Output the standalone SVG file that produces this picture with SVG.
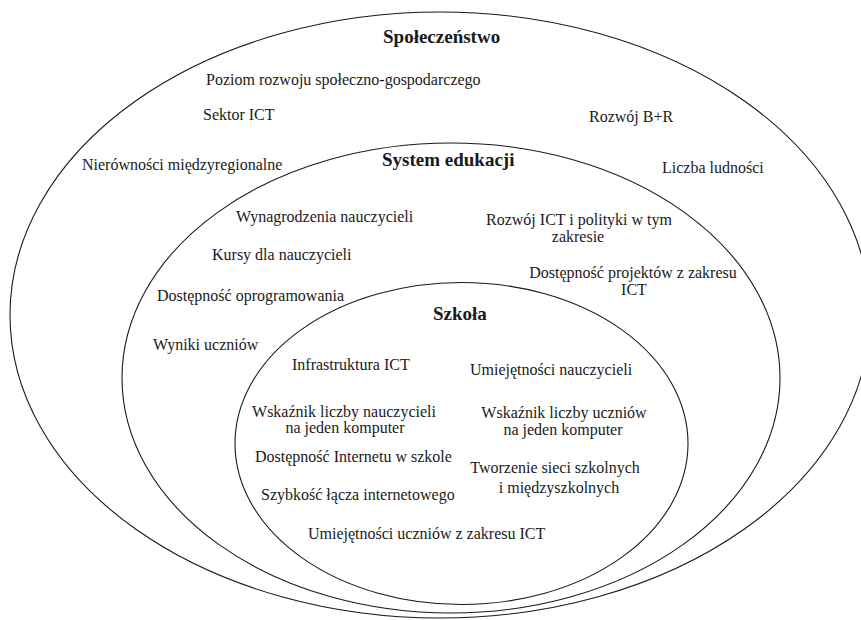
<svg xmlns="http://www.w3.org/2000/svg" width="861" height="620" viewBox="0 0 861 620">
<style>
.ring{fill:none;stroke:#1a1a1a;stroke-width:1.1}
text{font-family:"Liberation Serif","Times New Roman",serif;fill:#1a1a1a}
.t{font-size:16px}
.h{font-size:19px;font-weight:bold}
.c{text-anchor:middle}
</style>
<rect width="861" height="620" fill="#ffffff"/>
<g id="spoleczenstwo">
<ellipse class="ring" cx="440" cy="315" rx="430" ry="303"/>
<text class="h" x="383" y="43">Społeczeństwo</text>
<text class="t" x="206" y="85">Poziom rozwoju społeczno-gospodarczego</text>
<text class="t" x="203" y="120">Sektor ICT</text>
<text class="t" x="589" y="122">Rozwój B+R</text>
<text class="t" x="82" y="170">Nierówności międzyregionalne</text>
<text class="t" x="662" y="173">Liczba ludności</text>
</g>
<g id="system-edukacji">
<ellipse class="ring" cx="451" cy="378" rx="329" ry="235"/>
<text class="h" x="382" y="166">System edukacji</text>
<text class="t" x="236" y="222">Wynagrodzenia nauczycieli</text>
<text class="t" x="212" y="260">Kursy dla nauczycieli</text>
<text class="t" x="157" y="301">Dostępność oprogramowania</text>
<text class="t" x="153" y="350">Wyniki uczniów</text>
<text class="t c" x="579" y="225">Rozwój ICT i polityki w tym</text>
<text class="t c" x="578" y="242">zakresie</text>
<text class="t c" x="633" y="278">Dostępność projektów z zakresu</text>
<text class="t c" x="634" y="295">ICT</text>
</g>
<g id="szkola">
<ellipse class="ring" cx="461.5" cy="443.5" rx="226.5" ry="161"/>
<text class="h" x="433" y="320">Szkoła</text>
<text class="t" x="292" y="370">Infrastruktura ICT</text>
<text class="t" x="470" y="375">Umiejętności nauczycieli</text>
<text class="t c" x="344" y="417">Wskaźnik liczby nauczycieli</text>
<text class="t c" x="345" y="433">na jeden komputer</text>
<text class="t c" x="564" y="418">Wskaźnik liczby uczniów</text>
<text class="t c" x="563" y="435">na jeden komputer</text>
<text class="t" x="255" y="462">Dostępność Internetu w szkole</text>
<text class="t c" x="555" y="473">Tworzenie sieci szkolnych</text>
<text class="t c" x="559" y="493">i międzyszkolnych</text>
<text class="t" x="261" y="500">Szybkość łącza internetowego</text>
<text class="t" x="308" y="539">Umiejętności uczniów z zakresu ICT</text>
</g>
</svg>
